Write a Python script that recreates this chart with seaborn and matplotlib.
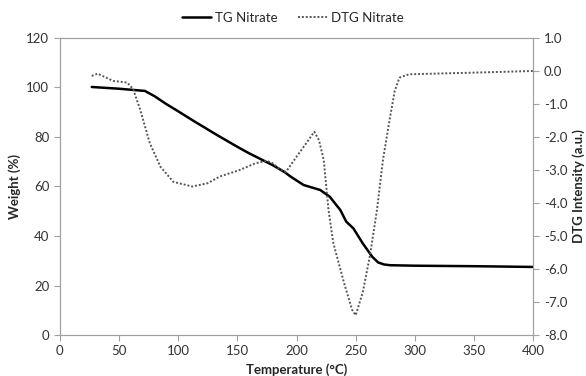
import pandas as pd
import seaborn as sns
import matplotlib.pyplot as plt
from matplotlib.ticker import FormatStrFormatter

# values
tg_temp = [27, 50, 72, 80, 90, 100, 112, 120, 130, 140, 152, 160, 170, 180, 190, 195,
           206, 220, 228, 237, 242, 248, 256, 264, 269, 274, 279, 300, 350, 400]
tg_weight = [100.2, 99.5, 98.6, 96.5, 93.3, 90.4, 86.8, 84.5, 81.6, 78.8, 75.5, 73.4, 71.0, 68.6, 65.8, 64.0,
             60.6, 58.6, 55.9, 50.5, 45.8, 43.1, 37.0, 31.6, 29.3, 28.5, 28.2, 28.0, 27.8, 27.5]

dtg_temp = [27, 32, 45, 57, 62, 68, 76, 85, 96, 112, 125, 135, 152, 165, 175, 180,
            185, 191, 200, 210, 215, 219, 223, 227, 231, 240, 247, 250, 256, 262, 268, 273,
            279, 283, 287, 295, 350, 400]
dtg_value = [-0.15, -0.08, -0.3, -0.35, -0.55, -1.18, -2.18, -2.9, -3.36, -3.5, -3.4, -3.2,
             -3.0, -2.8, -2.72, -2.8, -2.95, -3.06, -2.6, -2.1, -1.84, -2.1, -2.7, -4.2,
             -5.2, -6.4, -7.24, -7.4, -6.7, -5.6, -4.2, -2.7, -1.4, -0.6, -0.2, -0.1, -0.05, 0.0]

tg = pd.DataFrame({"Temperature": tg_temp, "Weight": tg_weight})
dtg = pd.DataFrame({"Temperature": dtg_temp, "DTG": dtg_value})

sns.set_style("white")
plt.rcParams["font.family"] = ["Lato", "DejaVu Sans"]

fig = plt.figure(figsize=(5.86, 3.76), dpi=100)
ax = fig.add_axes([0.102, 0.109, 0.808, 0.79])
ax2 = ax.twinx()

sns.lineplot(data=tg, x="Temperature", y="Weight", ax=ax, color="black", linewidth=1.8,
             label="TG Nitrate", legend=False)
sns.lineplot(data=dtg, x="Temperature", y="DTG", ax=ax2, color="#555555", linewidth=1.4,
             linestyle=(0, (1, 1)), label="DTG Nitrate", legend=False)

ax.set_xlim(0, 400)
ax.set_ylim(0, 120)
ax2.set_ylim(-8, 1)
ax.set_xticks(range(0, 401, 50))
ax.set_yticks(range(0, 121, 20))
ax2.set_yticks(range(-8, 2, 1))
ax2.yaxis.set_major_formatter(FormatStrFormatter("%.1f"))

for a in (ax, ax2):
    for s in a.spines.values():
        s.set_color("#a0a0a0")
        s.set_linewidth(0.8)
    a.tick_params(direction="out", length=4, width=0.8, color="#a0a0a0",
                  labelsize=9.5, labelcolor="#333333")
ax.tick_params(left=True, bottom=True)
ax2.tick_params(right=True)

ax.set_xlabel("Temperature (°C)", fontsize=9.5, fontweight="bold")
ax.set_ylabel("Weight (%)", fontsize=9.5, fontweight="bold")
ax2.set_ylabel("DTG Intensity (a.u.)", fontsize=9.5, fontweight="bold")

h1, l1 = ax.get_legend_handles_labels()
h2, l2 = ax2.get_legend_handles_labels()
fig.legend(h1 + h2, l1 + l2, loc="upper center", bbox_to_anchor=(0.5, 1.0), ncol=2,
           frameon=False, fontsize=9.5, handlelength=2.2, columnspacing=1.5, handletextpad=0.3)

fig.savefig("out.png", dpi=100)
plt.close(fig)
